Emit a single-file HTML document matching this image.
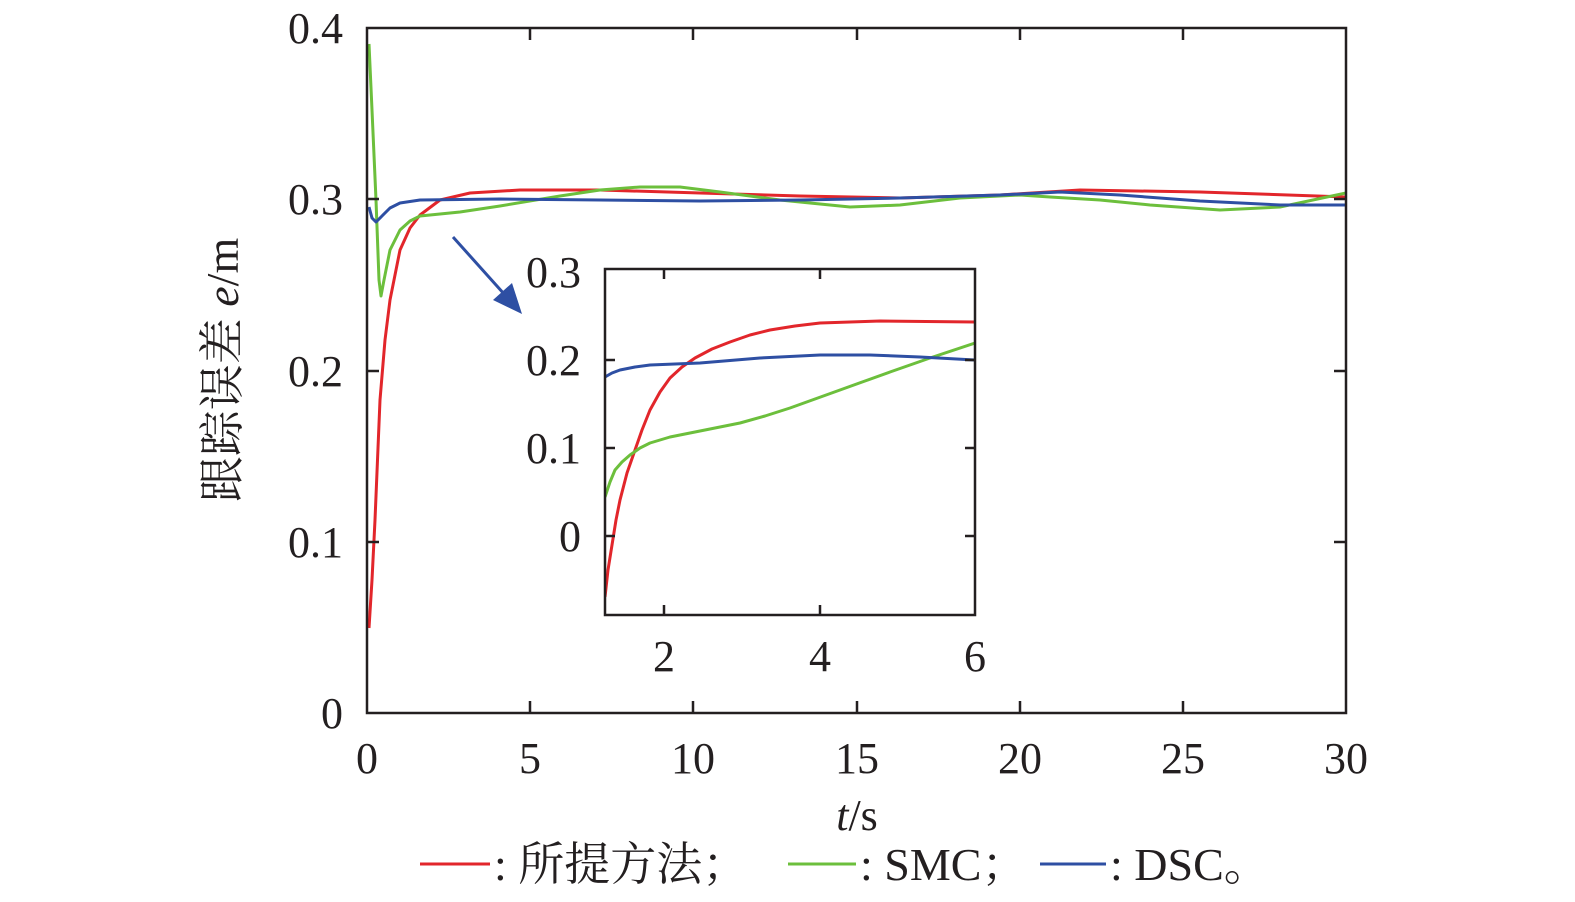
<!DOCTYPE html>
<html><head><meta charset="utf-8"><style>
body{margin:0;background:#fff}
svg{display:block}
text{font-family:"Liberation Serif","Noto Serif CJK SC",serif;fill:#231f20}
</style></head><body>
<svg width="1575" height="902" viewBox="0 0 1575 902">
<defs><clipPath id="c"><rect x="605" y="269" width="370" height="346"/></clipPath>
<clipPath id="m"><rect x="367" y="28" width="979" height="685"/></clipPath></defs>
<g clip-path="url(#m)" fill="none" stroke-width="3" stroke-linejoin="round">
<polyline stroke="#e2262b" points="369,628 372,580 375,520 380,400 385,340 390,300 400,250 410,228 420,215 440,200 470,193 520,190 600,190 700,193 800,196 900,198 1000,195 1080,190 1200,192 1346,197"/>
<polyline stroke="#6cbf3c" points="369,44 372,110 376,200 379,280 381,296 384,280 390,250 400,230 410,221 420,216 460,212 500,206 560,196 600,190 640,187 680,187 720,192 780,200 850,207 900,205 960,198 1020,195 1050,197 1100,200 1150,205 1220,210 1280,207 1346,193"/>
<polyline stroke="#2e4fa3" points="369,207 372,218 376,222 382,216 390,208 400,203 420,200 500,199 600,200 700,201 800,200 900,198 1000,195 1060,192 1120,195 1200,201 1280,205 1346,205"/>
</g>
<g stroke="#231f20" stroke-width="2.5" fill="none">
<rect x="367" y="28" width="979" height="685"/>
<path d="M530,713v-12M693,713v-12M857,713v-12M1020,713v-12M1183,713v-12M530,28v12M693,28v12M857,28v12M1020,28v12M1183,28v12M367,542h12M367,371h12M367,199h12M1346,542h-12M1346,371h-12M1346,199h-12"/>
</g>
<rect x="605" y="269" width="370" height="346" fill="#fff"/>
<g clip-path="url(#c)" fill="none" stroke-width="3" stroke-linejoin="round">
<polyline stroke="#e2262b" points="605,597 608,570 612,545 616,520 620,500 627,473 635,450 642,430 650,410 660,392 670,378 682,367 695,358 712,349 730,342 750,335 770,330 795,326 820,323 880,321 975,322"/>
<polyline stroke="#6cbf3c" points="605,497 610,482 615,470 622,462 630,455 640,448 650,443 670,437 690,433 715,428 740,423 765,416 790,408 815,399 840,390 865,381 890,372 930,358 975,343"/>
<polyline stroke="#2e4fa3" points="605,377 612,373 620,370 635,367 650,365 700,363 760,358 820,355 870,355 920,357 975,360"/>
</g>
<g stroke="#231f20" stroke-width="2.5" fill="none">
<rect x="605" y="269" width="370" height="346"/>
<path d="M664,615v-10M820,615v-10M664,269v10M820,269v10M605,536h10M605,448h10M605,360h10M975,536h-10M975,448h-10M975,360h-10"/>
</g>
<g stroke="#2e4fa3" stroke-width="3"><line x1="453" y1="237" x2="505" y2="295"/></g>
<polygon points="522,314 493,300 512,283" fill="#2e4fa3"/>
<g font-size="44" text-anchor="end">
<text x="343" y="43">0.4</text><text x="343" y="214">0.3</text><text x="343" y="386">0.2</text><text x="343" y="557">0.1</text><text x="343" y="728">0</text>
<text x="581" y="287">0.3</text><text x="581" y="375">0.2</text><text x="581" y="463">0.1</text><text x="581" y="551">0</text>
</g>
<g font-size="44" text-anchor="middle">
<text x="367" y="773">0</text><text x="530" y="773">5</text><text x="693" y="773">10</text><text x="857" y="773">15</text><text x="1020" y="773">20</text><text x="1183" y="773">25</text><text x="1346" y="773">30</text>
<text x="664" y="671">2</text><text x="820" y="671">4</text><text x="975" y="671">6</text>
<text x="857" y="830"><tspan font-style="italic">t</tspan>/s</text>
<text transform="translate(238,370) rotate(-90)" font-size="46">跟踪误差 <tspan font-style="italic">e</tspan>/m</text>
</g>
<g stroke-width="3"><line x1="420" y1="864" x2="490" y2="864" stroke="#e2262b"/><line x1="788" y1="864" x2="856" y2="864" stroke="#6cbf3c"/><line x1="1040" y1="864" x2="1106" y2="864" stroke="#2e4fa3"/></g>
<g font-size="46"><text x="494" y="880">: 所提方法；</text><text x="860" y="880">: SMC；</text><text x="1110" y="880">: DSC。</text></g>
</svg>
</body></html>
